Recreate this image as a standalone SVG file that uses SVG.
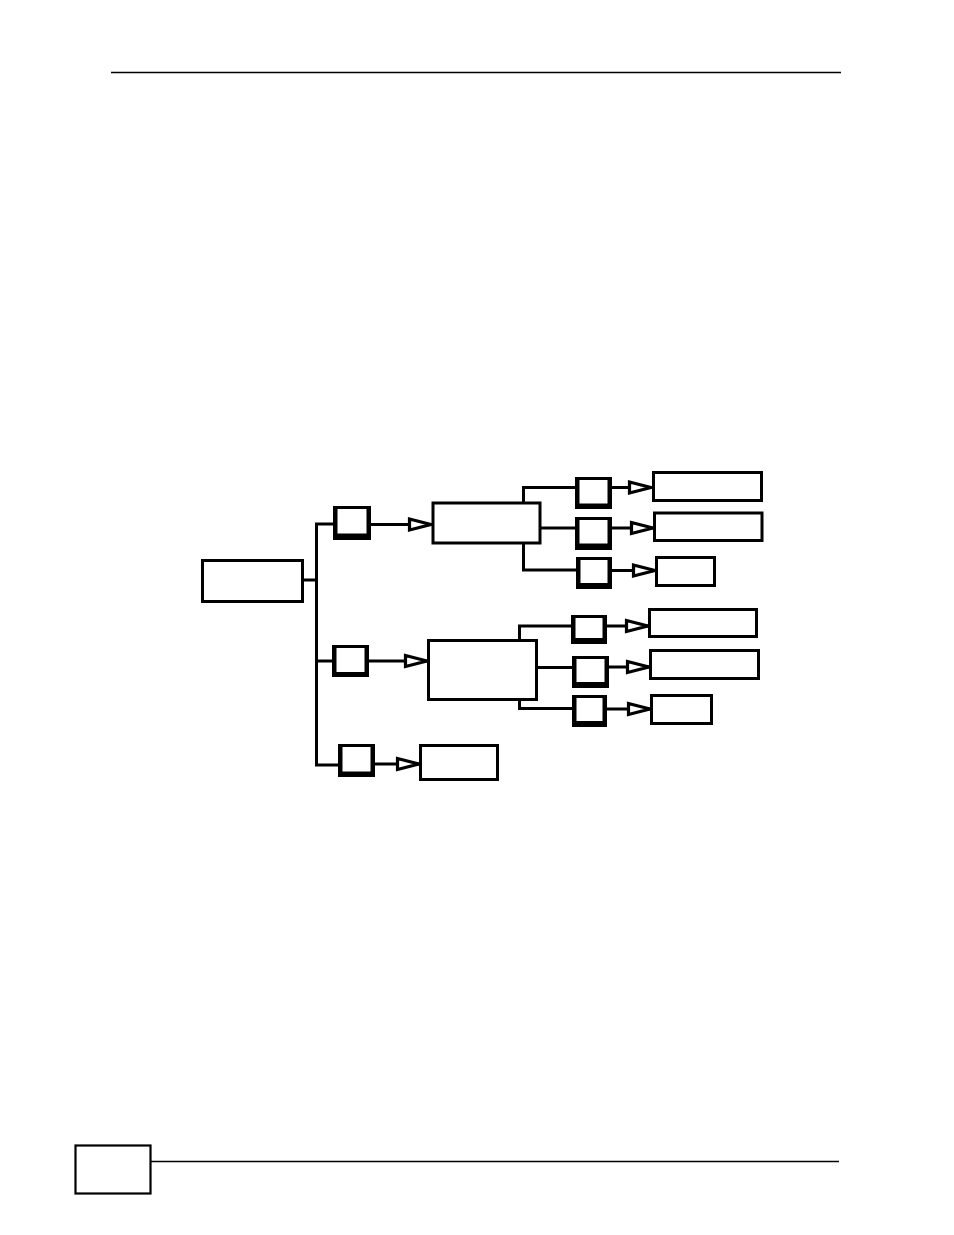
<svg xmlns="http://www.w3.org/2000/svg" width="954" height="1235" viewBox="0 0 954 1235">
<style>
.bx{fill:#fff;stroke:#000;stroke-width:3}
.sbo{fill:#000}
.sbi{fill:#fff}
.cn{fill:none;stroke:#000;stroke-width:3}
.ar{fill:none;stroke:#000;stroke-width:3;marker-end:url(#tri)}
.rule{stroke:#000;stroke-width:1.4}
</style>
<defs>
<marker id="tri" markerUnits="userSpaceOnUse" markerWidth="30" markerHeight="20" refX="24" refY="7" orient="auto" overflow="visible">
<path d="M1.5,1.5 L23,7 L1.5,12.5 Z" fill="#fff" stroke="#000" stroke-width="3.2" stroke-linejoin="miter"/>
</marker>
</defs>
<rect width="954" height="1235" fill="#fff"/>
<g id="page">
<line class="rule" x1="111" y1="72.5" x2="841" y2="72.5"/>
<rect x="75.5" y="1145.5" width="75" height="48" fill="#fff" stroke="#000" stroke-width="2.2"/>
<line class="rule" x1="151" y1="1161.5" x2="839" y2="1161.5"/>
</g>
<g id="connectors">
<path class="cn" d="M304,580 H316.5"/>
<path class="cn" d="M334,524 H316.5 V765 H339"/>
<path class="cn" d="M316.5,661 H333"/>
<path class="ar" d="M371,524.5 H432"/>
<path class="cn" d="M576,487.5 H523.5 V503"/>
<path class="cn" d="M576,570 H523.5 V544"/>
<path class="cn" d="M541,528 H576"/>
<path class="ar" d="M612,487.5 H652"/>
<path class="ar" d="M612,528 H654"/>
<path class="ar" d="M612,570.5 H656"/>
<path class="ar" d="M369,661 H428"/>
<path class="cn" d="M572,626 H519.5 V640"/>
<path class="cn" d="M572,708.5 H519.5 V700"/>
<path class="cn" d="M537,667.5 H573"/>
<path class="ar" d="M607,626 H649"/>
<path class="ar" d="M609,667 H650"/>
<path class="ar" d="M607,709 H651"/>
<path class="ar" d="M375,764 H420"/>
</g>
<g id="root"><rect class="bx" x="202.5" y="560.5" width="100" height="41"/></g>
<g id="s1"><rect class="sbo" x="333" y="506" width="38" height="34"/><rect class="sbi" x="337.5" y="509" width="29" height="24.5"/></g>
<g id="s2"><rect class="sbo" x="332" y="645" width="37" height="32"/><rect class="sbi" x="336.5" y="648" width="28" height="24"/></g>
<g id="s3"><rect class="sbo" x="338" y="744" width="37" height="33"/><rect class="sbi" x="342.5" y="747" width="28" height="24.5"/></g>
<g id="a"><rect class="bx" x="433" y="503" width="107" height="40"/></g>
<g id="e"><rect class="bx" x="428.5" y="640.5" width="108" height="59"/></g>
<g id="i"><rect class="bx" x="420.5" y="745.5" width="77" height="34"/></g>
<g id="b1"><rect class="sbo" x="575" y="477" width="37" height="32"/><rect class="sbi" x="579.5" y="480" width="28" height="23.5"/></g>
<g id="b2"><rect class="sbo" x="575" y="517" width="37" height="33"/><rect class="sbi" x="579.5" y="520" width="28" height="23.5"/></g>
<g id="b3"><rect class="sbo" x="576" y="557" width="36" height="32"/><rect class="sbi" x="580.5" y="560" width="27" height="23"/></g>
<g id="f1"><rect class="sbo" x="571" y="615" width="36" height="29"/><rect class="sbi" x="575.5" y="618" width="27" height="20"/></g>
<g id="f2"><rect class="sbo" x="572" y="656" width="37" height="32"/><rect class="sbi" x="576.5" y="659" width="28" height="23"/></g>
<g id="f3"><rect class="sbo" x="572" y="695" width="35" height="32"/><rect class="sbi" x="576.5" y="698" width="26" height="23"/></g>
<g id="c1"><rect class="bx" x="653.5" y="472.5" width="108" height="28"/></g>
<g id="c2"><rect class="bx" x="654.5" y="513" width="107.5" height="27.5"/></g>
<g id="c3"><rect class="bx" x="656.5" y="557.5" width="58" height="28"/></g>
<g id="g1"><rect class="bx" x="649.5" y="609.5" width="107" height="27"/></g>
<g id="g2"><rect class="bx" x="650.5" y="650.5" width="108" height="28"/></g>
<g id="g3"><rect class="bx" x="651.5" y="695.5" width="60" height="28"/></g>
</svg>
